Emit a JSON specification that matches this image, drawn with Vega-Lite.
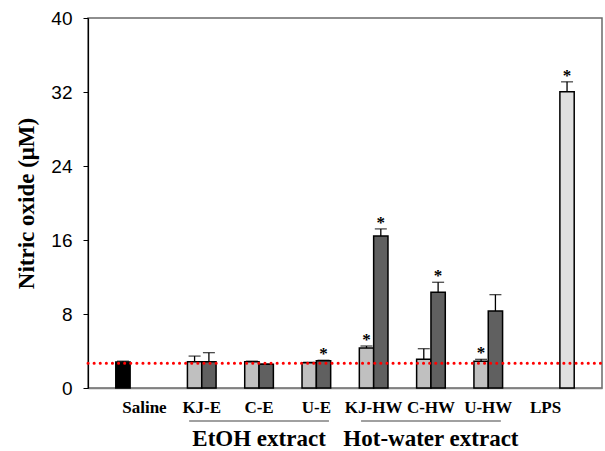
{
  "$schema": "https://vega.github.io/schema/vega-lite/v6.json",
  "width": 514,
  "height": 370,
  "autosize": {"type": "none"},
  "padding": {"left": 88, "top": 18, "right": 3, "bottom": 63},
  "background": "white",
  "config": {
    "view": {"stroke": "#6a6a6a", "strokeWidth": 1.5},
    "axis": {"grid": false}
  },
  "datasets": {
    "bars": [
      {"sample": "Saline", "dose": "vehicle", "no": 2.8, "upper": 2.9, "sig": ""},
      {"sample": "KJ-E", "dose": "low", "no": 2.85, "upper": 3.45, "sig": ""},
      {"sample": "KJ-E", "dose": "high", "no": 2.85, "upper": 3.82, "sig": ""},
      {"sample": "C-E", "dose": "low", "no": 2.85, "upper": 2.9, "sig": ""},
      {"sample": "C-E", "dose": "high", "no": 2.56, "upper": 2.6, "sig": ""},
      {"sample": "U-E", "dose": "low", "no": 2.74, "upper": 2.78, "sig": ""},
      {"sample": "U-E", "dose": "high", "no": 2.95, "upper": 3.0, "sig": "*"},
      {"sample": "KJ-HW", "dose": "low", "no": 4.32, "upper": 4.54, "sig": "*"},
      {"sample": "KJ-HW", "dose": "high", "no": 16.43, "upper": 17.2, "sig": "*"},
      {"sample": "C-HW", "dose": "low", "no": 3.1, "upper": 4.25, "sig": ""},
      {"sample": "C-HW", "dose": "high", "no": 10.35, "upper": 11.43, "sig": "*"},
      {"sample": "U-HW", "dose": "low", "no": 2.88, "upper": 3.1, "sig": "*"},
      {"sample": "U-HW", "dose": "high", "no": 8.32, "upper": 10.09, "sig": ""},
      {"sample": "LPS", "dose": "positive", "no": 32.04, "upper": 33.1, "sig": "*"}
    ],
    "groups": [
      {"label": "EtOH extract", "start": "KJ-E", "mid": "C-E", "end": "U-E"},
      {"label": "Hot-water extract", "start": "KJ-HW", "mid": "C-HW", "end": "U-HW"}
    ]
  },
  "encoding": {
    "x": {
      "field": "sample",
      "type": "nominal",
      "sort": null,
      "scale": {
        "type": "band",
        "domain": ["Saline", "KJ-E", "C-E", "U-E", "KJ-HW", "C-HW", "U-HW", "LPS"],
        "paddingInner": 0,
        "paddingOuter": 0.485
      },
      "axis": {
        "title": null,
        "labelAngle": 0,
        "ticks": false,
        "tickSize": 0,
        "labelPadding": 11,
        "labelFont": "Liberation Serif",
        "labelFontWeight": "bold",
        "labelFontSize": 17,
        "labelColor": "#000000",
        "domainColor": "#808080",
        "domainWidth": 1.5
      }
    }
  },
  "layer": [
    {
      "data": {"name": "bars"},
      "mark": {"type": "bar", "stroke": "#000000", "strokeWidth": 1.5},
      "encoding": {
        "xOffset": {
          "field": "dose",
          "type": "nominal",
          "scale": {"domain": ["vehicle", "low", "high", "positive"], "paddingInner": 0, "paddingOuter": 0}
        },
        "y": {
          "field": "no",
          "type": "quantitative",
          "scale": {"domain": [0, 40], "nice": false, "zero": true},
          "axis": {
            "title": "Nitric oxide (μM)",
            "values": [0, 8, 16, 24, 32, 40],
            "tickSize": 5,
            "tickColor": "#000000",
            "tickWidth": 1,
            "labelPadding": 11,
            "labelFont": "Liberation Sans",
            "labelFontSize": 19,
            "labelColor": "#000000",
            "domainColor": "#000000",
            "domainWidth": 1.2,
            "titleFont": "Liberation Serif",
            "titleFontWeight": "bold",
            "titleFontSize": 23,
            "titleColor": "#000000",
            "titlePadding": 12
          }
        },
        "fill": {
          "field": "dose",
          "type": "nominal",
          "scale": {"domain": ["vehicle", "low", "high", "positive"], "range": ["#000000", "#c0c0c0", "#606060", "#e0e0e0"]},
          "legend": null
        }
      }
    },
    {
      "data": {"name": "bars"},
      "mark": {"type": "rule", "color": "#000000", "strokeWidth": 1.3},
      "encoding": {
        "xOffset": {"field": "dose", "type": "nominal"},
        "y": {"field": "no", "type": "quantitative"},
        "y2": {"field": "upper"}
      }
    },
    {
      "data": {"name": "bars"},
      "mark": {"type": "tick", "orient": "horizontal", "color": "#000000", "size": 12, "thickness": 1.3},
      "encoding": {
        "xOffset": {"field": "dose", "type": "nominal"},
        "y": {"field": "upper", "type": "quantitative"}
      }
    },
    {
      "data": {"values": [{"level": 2.67}]},
      "mark": {"type": "rule", "color": "#ff0000", "strokeWidth": 3, "strokeDash": [0.1, 6], "strokeCap": "round"},
      "encoding": {
        "x": {"value": 0},
        "x2": {"value": 514},
        "y": {"field": "level", "type": "quantitative"}
      }
    },
    {
      "data": {"name": "bars"},
      "mark": {"type": "text", "font": "Liberation Serif", "fontWeight": "bold", "fontSize": 17, "baseline": "alphabetic", "dy": -1, "color": "#000000"},
      "encoding": {
        "xOffset": {"field": "dose", "type": "nominal"},
        "y": {"field": "upper", "type": "quantitative"},
        "text": {"field": "sig"}
      }
    },
    {
      "data": {"name": "groups"},
      "mark": {"type": "rule", "color": "#808080", "strokeWidth": 1.5, "clip": false},
      "encoding": {
        "x": {"field": "start", "type": "nominal", "bandPosition": 0.28},
        "x2": {"field": "end", "bandPosition": 0.72},
        "y": {"datum": -3.57}
      }
    },
    {
      "data": {"name": "groups"},
      "mark": {"type": "text", "font": "Liberation Serif", "fontWeight": "bold", "fontSize": 23, "baseline": "alphabetic", "color": "#000000", "clip": false},
      "encoding": {
        "x": {"field": "mid", "type": "nominal"},
        "y": {"datum": -6.27},
        "text": {"field": "label"}
      }
    }
  ]
}
